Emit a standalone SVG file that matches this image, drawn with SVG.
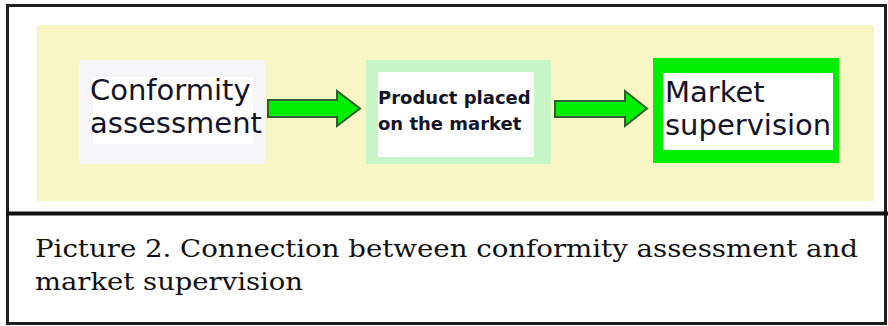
<svg xmlns="http://www.w3.org/2000/svg" width="888" height="326" viewBox="0 0 888 326">
  <defs>
    <style>
      .lbl { font-family: "DejaVu Sans", Verdana, sans-serif; font-size: 29px; fill: #141428; }
      .small { font-family: "DejaVu Sans", Tahoma, sans-serif; font-size: 18px; font-weight: bold; fill: #141428; }
      .cap { font-family: "DejaVu Serif", "Liberation Serif", serif; font-size: 24px; fill: #111; }
      .arrow { fill: #00ee00; stroke: #2d5e2d; stroke-width: 2; stroke-linejoin: miter; }
    </style>
  </defs>
  <rect x="0" y="0" width="888" height="326" fill="#ffffff"/>
  <g id="frame">
    <rect x="7.5" y="5.5" width="878" height="318" fill="none" stroke="#1e1e1e" stroke-width="3"/>
    <line x1="7" y1="213.5" x2="888" y2="213.5" stroke="#111" stroke-width="4"/>
  </g>
  <rect id="panel" x="37" y="25" width="837" height="176" fill="#f8f6c4"/>
  <g id="conformity">
    <rect x="79" y="60" width="186" height="104" fill="#f6f6f8"/>
    <rect x="93" y="77" width="160" height="67" fill="#ffffff"/>
    <text class="lbl" x="90" y="100">Conformity</text>
    <text class="lbl" x="90" y="133">assessment</text>
  </g>
  <g id="product">
    <rect x="366" y="60" width="185" height="104" fill="#c6f5c6"/>
    <rect x="378" y="72" width="156" height="85" fill="#ffffff"/>
    <text class="small" x="378" y="104">Product placed</text>
    <text class="small" x="378" y="130">on the market</text>
  </g>
  <g id="market">
    <rect x="653" y="58" width="186" height="105" fill="#00ee00"/>
    <rect x="663" y="73" width="170" height="77" fill="#ffffff"/>
    <text class="lbl" x="665" y="102">Market</text>
    <text class="lbl" x="665" y="135">supervision</text>
  </g>
  <g id="connectors">
    <polygon class="arrow" points="268,100 337,100 337,91 360,108.5 337,126 337,117 268,117"/>
    <polygon class="arrow" points="555,101 625,101 625,91 647,108.5 625,126 625,117 555,117"/>
  </g>
  <g id="caption">
    <text class="cap" x="35" y="257" textLength="823" lengthAdjust="spacingAndGlyphs">Picture 2. Connection between conformity assessment and</text>
    <text class="cap" x="35" y="290" textLength="268" lengthAdjust="spacingAndGlyphs">market supervision</text>
  </g>
</svg>
